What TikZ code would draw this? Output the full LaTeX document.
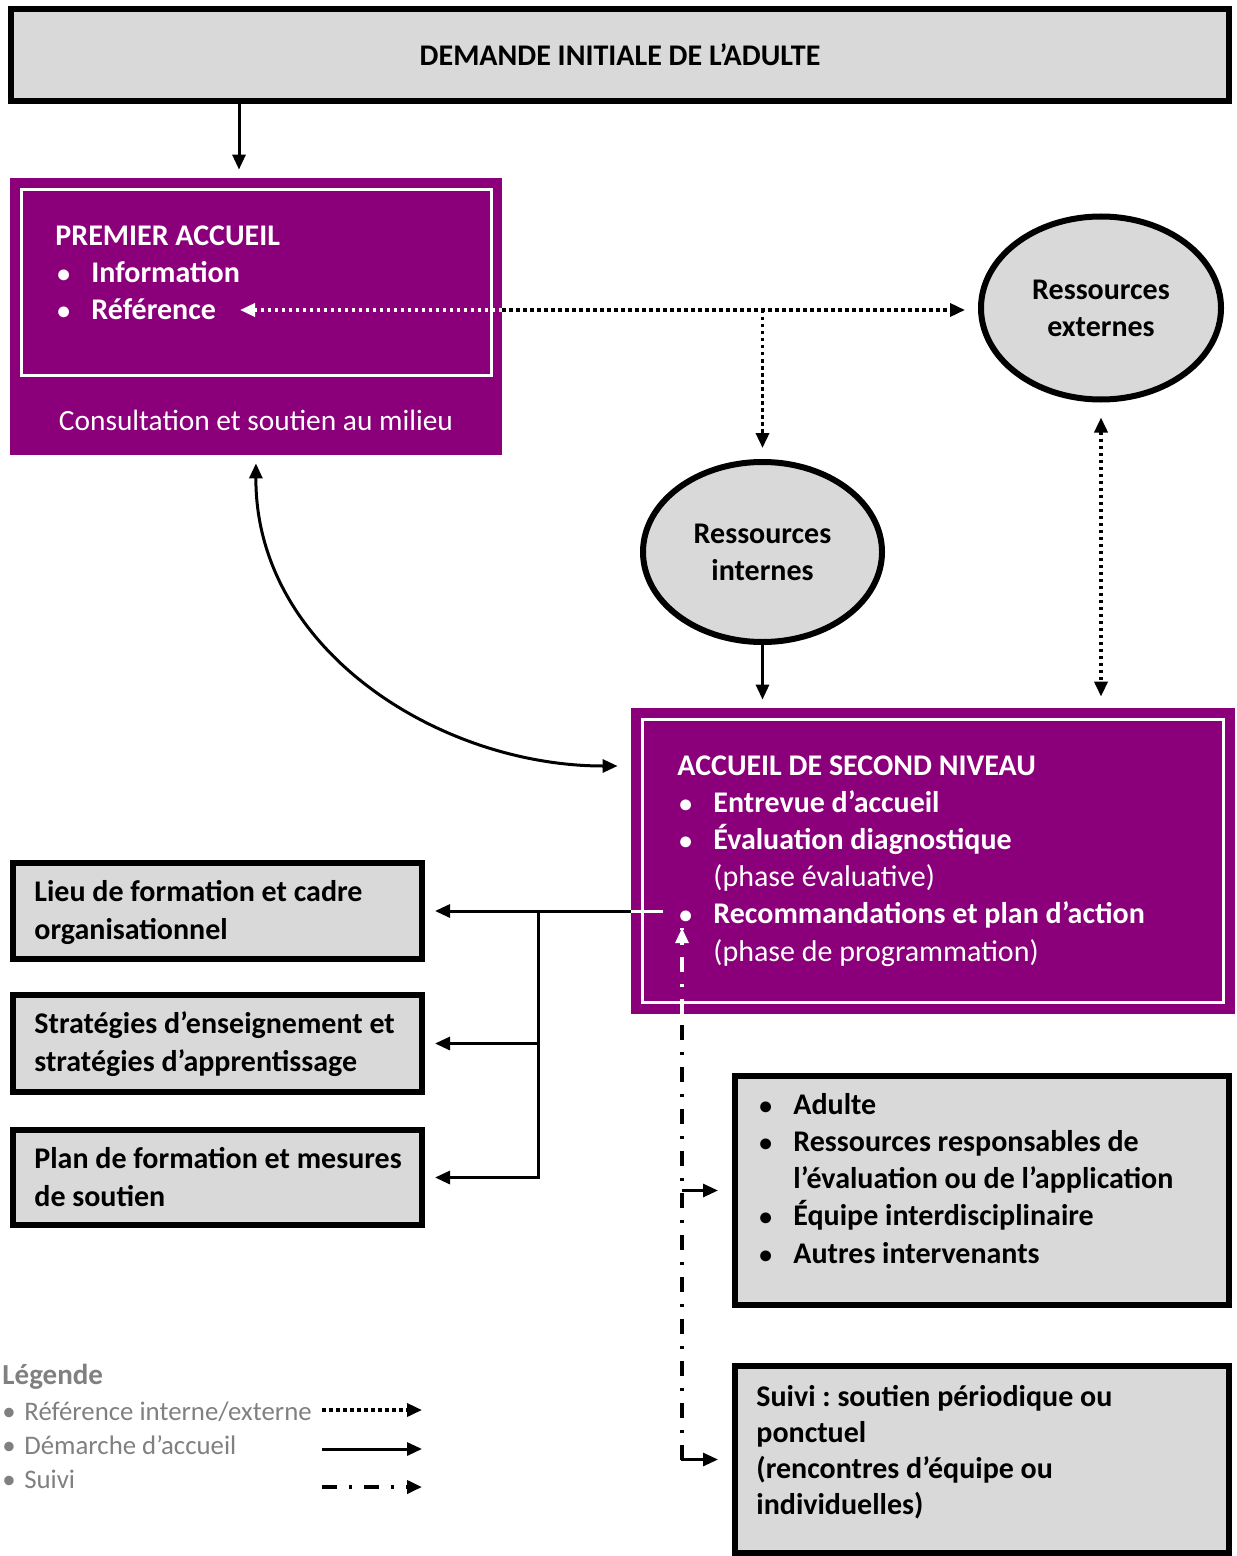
\documentclass[tikz,border=0pt]{standalone}
\usepackage{fontspec}
\setmainfont{Carlito}
\usetikzlibrary{arrows.meta,shapes.geometric}
\definecolor{prune}{HTML}{8B007A}
\definecolor{grisfond}{HTML}{D9D9D9}
\definecolor{grislegende}{HTML}{808080}
\newcommand{\puce}{\makebox[18pt][l]{\hspace*{1pt}\scalebox{0.85}{\textbullet}}}

\begin{document}
\begin{tikzpicture}[x=0.5pt,y=-0.5pt,
  every node/.style={inner sep=0pt},
  boite/.style={draw,line width=3pt,fill=grisfond},
  violet/.style={fill=prune},
  cadre/.style={draw=white,line width=1.5pt},
  bulle/.style={ellipse,draw,line width=3pt,fill=grisfond,align=center,
    font=\fontsize{15}{18.5}\selectfont\bfseries},
  txt/.style={align=left,font=\fontsize{15}{18.6}\selectfont\bfseries},
  pointe/.style={-{Triangle[length=7.5pt,width=6.5pt]}},
  flow/.style={line width=1.5pt,pointe},
  refl/.style={line width=1.75pt,dash pattern=on 1.75pt off 1.75pt,pointe},
  suivi/.style={line width=2pt,dash pattern=on 7.5pt off 6pt on 1.5pt off 6pt}]
\useasboundingbox (0,0) rectangle (1236,1556);

% boites
\node[boite,minimum width=609pt,minimum height=46pt,font=\fontsize{15}{18}\selectfont\bfseries]
  (demande) at (620,55) {DEMANDE INITIALE DE L’ADULTE};
\node[violet,minimum width=246pt,minimum height=104pt] (premierbox) at (256,282) {};
\node[cadre,minimum width=235pt,minimum height=93pt] (premierframe) at (256.5,282.5) {};
\node[violet,minimum width=246pt,minimum height=34.5pt,text=white,
  font=\fontsize{14.7}{18}\selectfont] (consult) at (256,420.5) {Consultation et soutien au milieu};
\node[txt,text=white,anchor=base west] (premiertxt) at (55,320)
  {PREMIER ACCUEIL\\\puce Information\\\puce Référence};

\node[bulle,minimum width=120pt,minimum height=91.5pt] (ext) at (1101,308) {Ressources\\externes};
\node[bulle,minimum width=119.5pt,minimum height=90pt] (int) at (762.5,552) {Ressources\\internes};

\node[violet,minimum width=302pt,minimum height=153pt] (second) at (933,861) {};
\node[cadre,minimum width=290.5pt,minimum height=141.5pt] (secondframe) at (933,861) {};
\node[txt,text=white,anchor=base west] (secondtxt) at (677,961)
  {ACCUEIL DE SECOND NIVEAU\\\puce Entrevue d’accueil\\\puce Évaluation diagnostique\\
   \hspace*{18pt}\mdseries(phase évaluative)\\\puce Recommandations et plan d’action\\
   \hspace*{18pt}\mdseries(phase de programmation)};

\node[boite,minimum width=204.5pt,minimum height=48pt] (lieu) at (217.5,911) {};
\node[boite,minimum width=204.5pt,minimum height=48.5pt] (strat) at (217.5,1043.5) {};
\node[boite,minimum width=204.5pt,minimum height=47.5pt] (plan) at (217.5,1177.5) {};
\node[txt,anchor=base west] (lieutxt) at (34,939) {Lieu de formation et cadre\\organisationnel};
\node[txt,anchor=base west] (strattxt) at (34,1071) {Stratégies d’enseignement et\\stratégies d’apprentissage};
\node[txt,anchor=base west] (plantxt) at (34,1206) {Plan de formation et mesures\\de soutien};

\node[boite,minimum width=247pt,minimum height=114.5pt] (resp) at (982,1190.5) {};
\node[txt,anchor=base west] (resptxt) at (757,1263)
  {\puce Adulte\\\puce Ressources responsables de\\\hspace*{18pt}l’évaluation ou de l’application\\
   \puce Équipe interdisciplinaire\\\puce Autres intervenants};
\node[boite,minimum width=247pt,minimum height=93.5pt] (suivibox) at (982,1459.5) {};
\node[txt,anchor=base west,font=\fontsize{15}{18}\selectfont\bfseries] (suivitxt) at (756,1514)
  {Suivi :\ soutien périodique ou\\ponctuel\\(rencontres d’équipe ou\\individuelles)};

% liens
\coordinate (refpt) at (240,310);
\coordinate (recpt) at (663,911);
\coordinate (split) at (538,911);
\coordinate (suivhaut) at (682,928);
\coordinate (suivbas) at (682,1459.5);

\draw[flow,shorten >=4pt] (demande.south -| 239,0) -- (premierbox.north -| 239,0);
\draw[refl,white] (refpt -| premierbox.east) -- (refpt);
\draw[refl,shorten >=6.5pt] (refpt -| premierbox.east) -- (ext.west |- refpt);
\draw[refl,shorten >=5.5pt] (int.north |- refpt) -- (int.north);
\draw[flow,shorten >=4pt] (int.south) -- (int.south |- second.north);
\draw[refl,{Triangle[length=7.5pt,width=6.5pt]}-{Triangle[length=7.5pt,width=6.5pt]},
  shorten <=7.5pt,shorten >=5.5pt] (ext.south) -- (ext.south |- second.north);
\draw[flow,{Triangle[length=7.5pt,width=6.5pt]}-{Triangle[length=7.5pt,width=6.5pt]},
  shorten <=4pt,shorten >=6.5pt]
  (consult.south) .. controls (255,650) and (440,766) .. (second.west |- 0,766);

\draw[line width=1.5pt,white] (recpt) -- (recpt -| second.west);
\draw[flow,shorten >=5pt] (recpt -| second.west) -- (lieu.east);
\draw[flow,shorten >=5pt] (split) |- (plan.east);
\draw[flow,shorten >=5pt] (split |- strat.east) -- (strat.east);

\draw[suivi] (suivbas) -- (suivbas |- second.south);
\draw[suivi,white] (suivbas |- second.south) -- (suivhaut);
\draw[flow,white] ([yshift=-6pt]suivhaut) -- (suivhaut);
\draw[flow,shorten >=7pt] (suivbas |- resp.west) -- (resp.west);
\draw[flow,shorten >=7pt] (suivbas |- 0,1445) |- (suivibox.west);

% legende
\node[anchor=base west,text=grislegende,font=\fontsize{14.5}{18}\selectfont\bfseries]
  (legende) at (2,1384) {Légende};
\node[anchor=base west,text=grislegende,align=left,font=\fontsize{13.4}{17}\selectfont]
  (legtxt) at (2,1488) {\makebox[11pt][l]{\textbullet}Référence interne/externe\\
  \makebox[11pt][l]{\textbullet}Démarche d’accueil\\\makebox[11pt][l]{\textbullet}Suivi};
\foreach \s/\y [count=\k] in {refl/1410,flow/1449,suivi/1487} {
  \coordinate (lg\k a) at (322,\y);
  \coordinate (lg\k b) at (422,\y);
  \draw[\s,pointe] (lg\k a) -- (lg\k b);
}
\end{tikzpicture}
\end{document}
